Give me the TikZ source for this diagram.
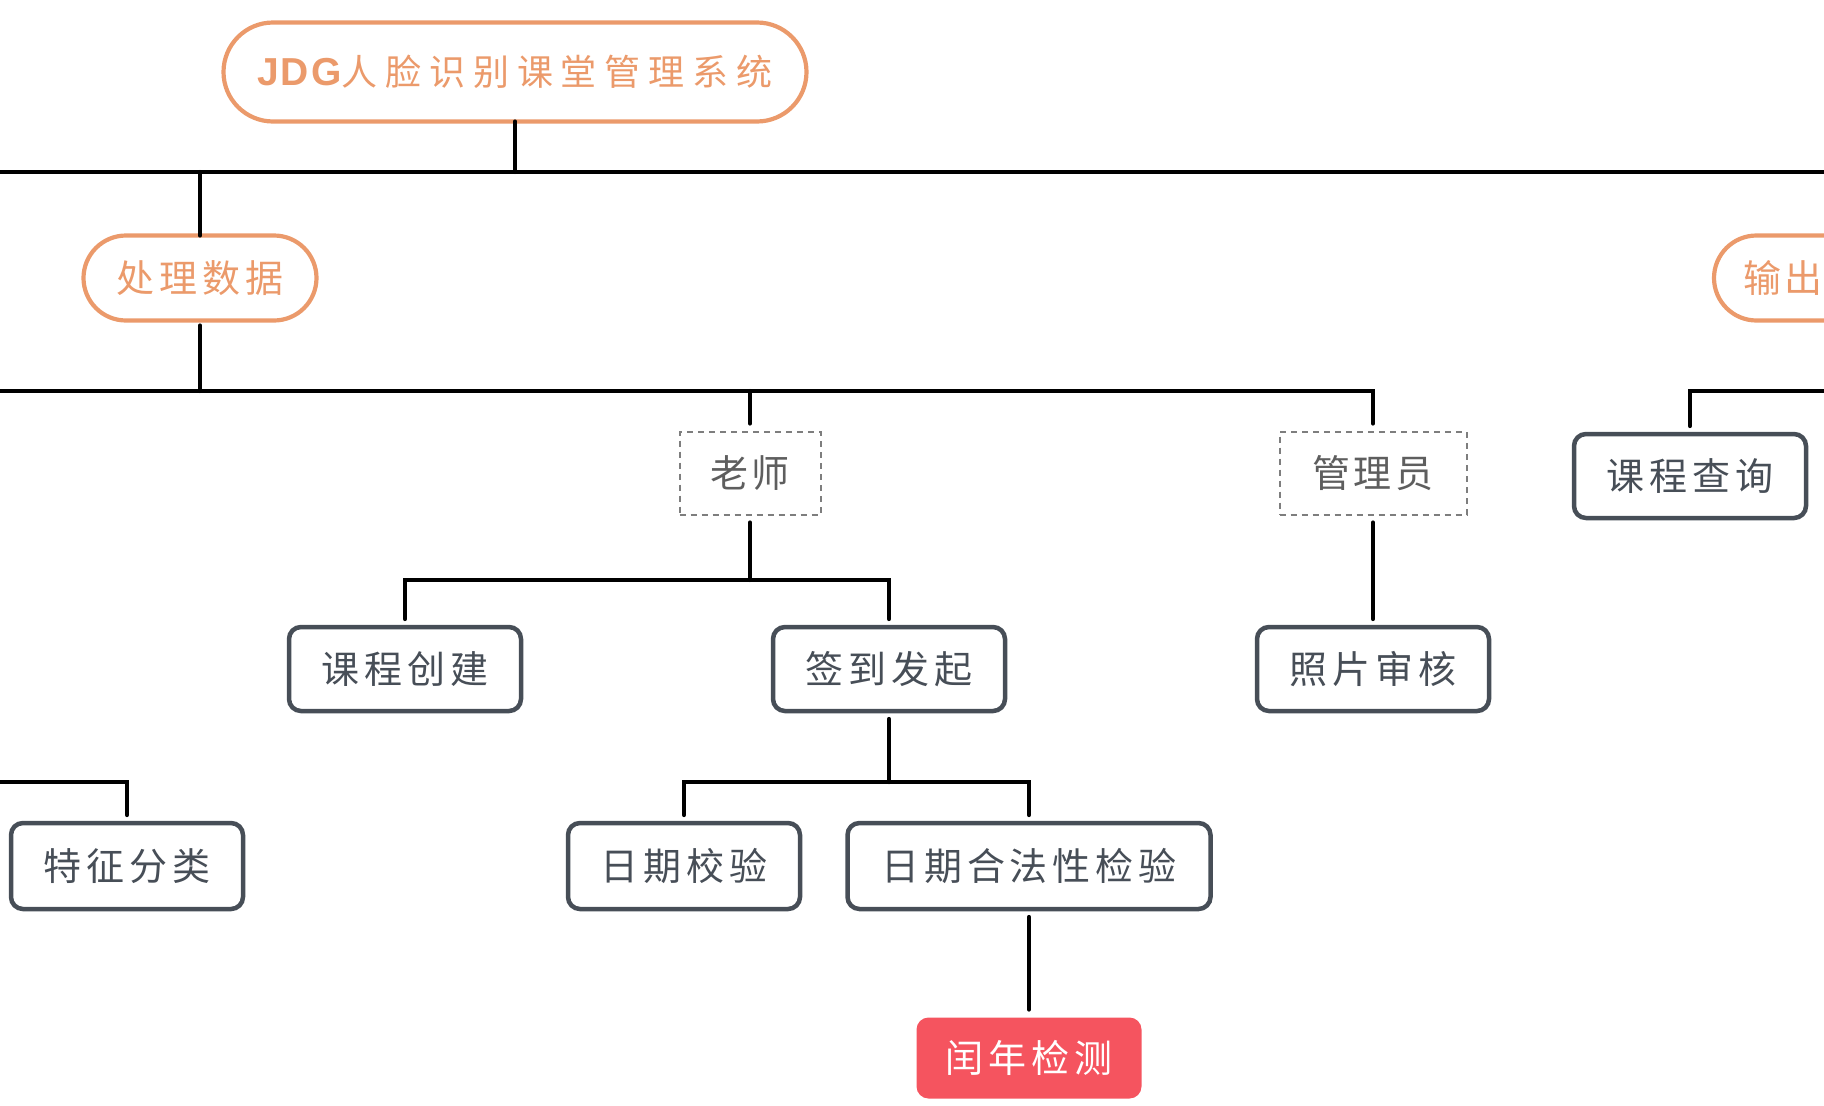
\documentclass[tikz,border=0pt]{standalone}
\usepackage{fontspec}
\usepackage{xcolor}
\usetikzlibrary{shapes.misc}
\newfontfamily\cjkroot[LetterSpace=22]{Noto Sans CJK SC}
\newfontfamily\cjkbox[LetterSpace=13]{Noto Sans CJK SC}
\newfontfamily\cjkrole[LetterSpace=8]{Noto Sans CJK SC}
\newfontfamily\jdgfont[LetterSpace=5]{Liberation Sans}
\definecolor{topicorange}{HTML}{EB9A6B}
\definecolor{leafgray}{HTML}{474E57}
\definecolor{rolegray}{HTML}{7E7E7E}
\definecolor{roletext}{HTML}{5E5E5E}
\definecolor{alertred}{HTML}{F5545F}
\tikzset{
  topic/.style={rounded rectangle, draw=topicorange, line width=4.2pt,
    text=topicorange, inner sep=0pt, outer sep=0pt,
    font=\cjkbox\fontsize{38}{42}\selectfont},
  leaf/.style={rectangle, rounded corners=12pt, draw=leafgray, line width=4.5pt,
    text=leafgray, minimum width=232pt, minimum height=84pt, inner sep=0pt,
    outer sep=8pt, font=\cjkbox\fontsize{38}{42}\selectfont},
  role/.style={rectangle, draw=rolegray, dash pattern=on 6pt off 5pt,
    line width=2pt, text=roletext, minimum height=83pt, inner sep=0pt,
    outer sep=8pt, font=\cjkrole\fontsize{38}{42}\selectfont},
  alert/.style={rectangle, rounded corners=12pt, fill=alertred, text=white,
    minimum width=225pt, minimum height=81pt, inner sep=0pt, outer sep=8pt,
    font=\cjkbox\fontsize{38}{42}\selectfont},
  link/.style={draw=black, line width=4.2pt, line cap=round},
}

\begin{document}
\begin{tikzpicture}[x=1pt, y=-1pt]
    \useasboundingbox (0,0) rectangle (1824,1106);

    % topics
    \node[topic, minimum width=583pt, minimum height=99pt] (root) at (515,72)
        {{\jdgfont\bfseries\fontsize{39}{42}\selectfont JDG}{\cjkroot\fontsize{36}{42}\selectfont 人脸识别课堂管理系统}};
    \node[topic, minimum width=233pt, minimum height=85pt] (proc) at (200,278) {处理数据};
    \node[topic, anchor=west, minimum height=85pt, text width=200pt, align=left,
          inner xsep=26pt, font=\cjkrole\fontsize{38}{42}\selectfont] (out) at (1714,278) {输出};

    % roles
    \node[role, minimum width=141pt] (teacher) at (750,473) {老师};
    \node[role, minimum width=187pt] (admin) at (1373,473) {管理员};

    % leaves
    \node[leaf] (query) at (1690,476) {课程查询};
    \node[leaf] (create) at (405,669) {课程创建};
    \node[leaf] (sign) at (889,669) {签到发起};
    \node[leaf] (photo) at (1373,669) {照片审核};
    \node[leaf, minimum height=86pt] (feat) at (127,866) {特征分类};
    \node[leaf, minimum height=86pt] (datechk) at (684,866) {日期校验};
    \node[leaf, minimum width=363pt, minimum height=86pt] (legal) at (1029,866) {日期合法性检验};
    \node[alert] (leap) at (1029,1058) {闰年检测};

    % buses
    \coordinate (topL) at (0,172);
    \coordinate (topR) at (1824,172);
    \coordinate (midL) at (0,391);
    \coordinate (midR) at (1824,391);
    \coordinate (lowL) at (0,782);
    \coordinate (tbus) at (750,580);
    \coordinate (sbus) at (889,782);

    \draw[link] (topL) -- (topR);
    \draw[link] (root.south) -- (root.south |- topL);
    \draw[link] (proc.north |- topL) -- (proc.north);

    \draw[link] (proc.south) ++(0,5) -- (proc.south |- midL);
    \draw[link] (midL) -| (admin.north);
    \draw[link] (teacher.north |- midL) -- (teacher.north);
    \draw[link] (midR) -| (query.north);

    \draw[link] (teacher.south) -- (tbus);
    \draw[link] (create.north) |- (tbus) -| (sign.north);
    \draw[link] (admin.south) -- (photo.north);

    \draw[link] (lowL) -| (feat.north);
    \draw[link] (sign.south) -- (sbus);
    \draw[link] (datechk.north) |- (sbus) -| (legal.north);
    \draw[link] (legal.south) -- (leap.north);
\end{tikzpicture}
\end{document}
